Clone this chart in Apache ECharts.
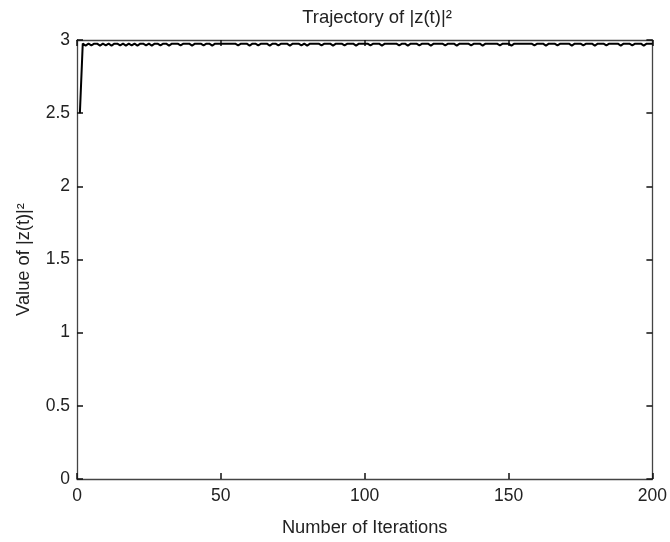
<!DOCTYPE html>
<html>
<head>
<meta charset="utf-8">
<script src="https://cdn.jsdelivr.net/npm/echarts@6/dist/echarts.min.js"></script>
<style>
html,body{margin:0;padding:0;background:#fff;}
#chart{width:670px;height:542px;}
</style>
</head>
<body>
<div id="chart"></div>
<script>
// Iteration index starts at 1
const startIteration = 1;
// Value of |z(t)|^2 at each iteration
const values = [
  2.5, 2.975, 2.962, 2.975, 2.963, 2.975, 2.975, 2.962, 2.975, 2.963, 2.975, 2.962, 2.975, 2.975, 2.963, 2.975, 2.962, 2.975, 2.963, 2.975,
  2.962, 2.975, 2.975, 2.963, 2.975, 2.962, 2.975, 2.975, 2.963, 2.975, 2.975, 2.962, 2.975, 2.975, 2.975, 2.963, 2.975, 2.975, 2.975, 2.962,
  2.975, 2.975, 2.975, 2.963, 2.975, 2.975, 2.962, 2.975, 2.975, 2.975, 2.975, 2.975, 2.975, 2.975, 2.975, 2.963, 2.975, 2.975, 2.975, 2.962,
  2.975, 2.975, 2.963, 2.975, 2.975, 2.975, 2.962, 2.975, 2.975, 2.963, 2.975, 2.975, 2.975, 2.962, 2.975, 2.975, 2.975, 2.963, 2.975, 2.962,
  2.975, 2.975, 2.975, 2.975, 2.963, 2.975, 2.975, 2.975, 2.962, 2.975, 2.975, 2.975, 2.963, 2.975, 2.975, 2.975, 2.962, 2.975, 2.975, 2.975,
  2.975, 2.963, 2.975, 2.975, 2.975, 2.962, 2.975, 2.975, 2.975, 2.975, 2.975, 2.963, 2.975, 2.975, 2.962, 2.975, 2.975, 2.975, 2.963, 2.975,
  2.975, 2.975, 2.962, 2.975, 2.975, 2.975, 2.975, 2.963, 2.975, 2.975, 2.975, 2.962, 2.975, 2.975, 2.975, 2.975, 2.963, 2.975, 2.975, 2.975,
  2.962, 2.975, 2.975, 2.975, 2.975, 2.975, 2.963, 2.975, 2.975, 2.975, 2.962, 2.975, 2.975, 2.975, 2.975, 2.975, 2.975, 2.975, 2.963, 2.975,
  2.975, 2.975, 2.962, 2.975, 2.975, 2.975, 2.963, 2.975, 2.975, 2.975, 2.975, 2.962, 2.975, 2.975, 2.975, 2.963, 2.975, 2.975, 2.975, 2.962,
  2.975, 2.975, 2.975, 2.963, 2.975, 2.975, 2.975, 2.975, 2.962, 2.975, 2.975, 2.975, 2.963, 2.975, 2.975, 2.975, 2.962, 2.975, 2.975, 2.975
];
const xTicks = [0, 50, 100, 150, 200];
const yTicks = [0, 0.5, 1, 1.5, 2, 2.5, 3];

const titleText = 'Trajectory of |z(t)|²';
const xTitle = 'Number of Iterations';
const yTitle = 'Value of |z(t)|²';

const points = values.map((v, i) => [startIteration + i, v]);

const font = 'Liberation Sans, Arial, Helvetica, sans-serif';
const textColor = '#222';
const axisColor = '#444';

const chart = echarts.init(document.getElementById('chart'), null, {renderer: 'canvas'});
const baseAxisLine = {show: true, onZero: false, lineStyle: {color: axisColor, width: 1.3}};
const baseTick = {show: true, inside: true, length: 6, lineStyle: {color: '#111', width: 1.5}};

chart.setOption({
  backgroundColor: '#fff',
  animation: false,
  title: {
    text: titleText,
    left: 372, top: 3, textAlign: 'center',
    textStyle: {fontFamily: font, fontWeight: 'normal', fontSize: 18.5, color: textColor}
  },
  grid: {left: 77, right: 17, top: 40, bottom: 60, containLabel: false},
  xAxis: [{
    type: 'value', min: xTicks[0], max: xTicks[xTicks.length - 1], interval: 50,
    position: 'bottom',
    name: xTitle, nameLocation: 'middle', nameGap: 40,
    nameTextStyle: {fontFamily: font, fontSize: 18.3, color: textColor},
    axisLine: baseAxisLine, axisTick: baseTick,
    axisLabel: {fontFamily: font, fontSize: 17.5, color: textColor, margin: 8},
    splitLine: {show: false}
  }, {
    type: 'value', min: xTicks[0], max: xTicks[xTicks.length - 1], interval: 50,
    position: 'top',
    axisLine: baseAxisLine, axisTick: baseTick,
    axisLabel: {show: false}, splitLine: {show: false}
  }],
  yAxis: [{
    type: 'value', min: yTicks[0], max: yTicks[yTicks.length - 1], interval: 0.5,
    position: 'left',
    name: yTitle, nameLocation: 'middle', nameGap: 44, nameRotate: 90,
    nameTextStyle: {fontFamily: font, fontSize: 18.3, color: textColor},
    axisLine: baseAxisLine, axisTick: baseTick,
    axisLabel: {fontFamily: font, fontSize: 17.5, color: textColor, margin: 7},
    splitLine: {show: false}
  }, {
    type: 'value', min: yTicks[0], max: yTicks[yTicks.length - 1], interval: 0.5,
    position: 'right',
    axisLine: baseAxisLine, axisTick: baseTick,
    axisLabel: {show: false}, splitLine: {show: false}
  }],
  series: [{
    type: 'line',
    data: points,
    xAxisIndex: 0, yAxisIndex: 0,
    showSymbol: false,
    lineStyle: {color: '#000', width: 2},
    z: 5
  }]
});
</script>
</body>
</html>
